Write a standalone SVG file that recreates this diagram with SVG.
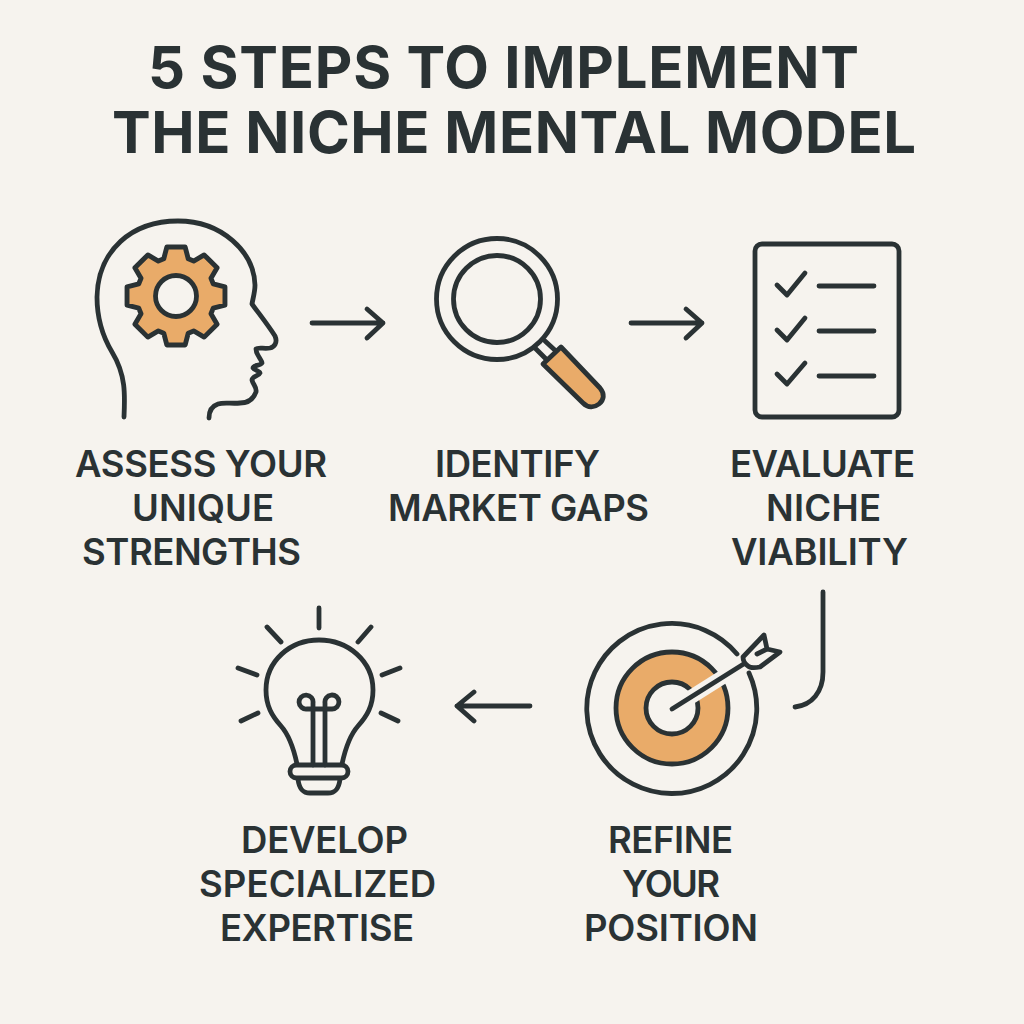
<svg xmlns="http://www.w3.org/2000/svg" width="1024" height="1024" viewBox="0 0 1024 1024">
<style>
.l{fill:none;stroke:#2a3234;stroke-width:4.8;stroke-linecap:round;stroke-linejoin:round}
.o{fill:#e9ab69;stroke:#2a3234;stroke-width:4.8;stroke-linejoin:round}
.b{fill:#f6f3ee;stroke:#2a3234;stroke-width:4.8}
text{font-family:"Inter","Liberation Sans",sans-serif;fill:#2a3234;text-anchor:start}
.t{font-size:58px;font-weight:700}
.s{font-size:36.5px;font-weight:600}
</style>
<rect width="1024" height="1024" fill="#f6f3ee"/>
<g id="title">
<text class="t" x="148" y="87.5" textLength="711" lengthAdjust="spacing">5 STEPS TO IMPLEMENT</text>
<text class="t" x="112" y="152.5" textLength="804" lengthAdjust="spacing">THE NICHE MENTAL MODEL</text>
</g>
<g id="connectors">
<path class="l" d="M312 323H383M367 309L383 323L367 338"/>
<path class="l" d="M631 323H702M686 309L702 323L686 338"/>
<path class="l" d="M823 592V672C823 692 812 705 795 707"/>
<path class="l" d="M530 706H457M474 692L457 706L474 721"/>
</g>
<g id="step1">
<path class="l" d="M124 417C125 395 126 375 112 352C100 332 97 315 97 297C98 250 132 221 178 221C222 221 254 252 255 285C255 292 253 298 252 304C260 315 268 325 275 336C278 343 274 347 270 348C264 349 258 347 256 349C256 355 262 360 262 363C260 366 253 365 253 368C254 370 260 371 260 373C259 376 252 376 252 380C253 385 257 387 256 392C253 400 247 403 240 403C232 404 224 402 218 404C212 406 209 411 209 418"/>
<path class="o" transform="translate(176 296) scale(1.02) translate(-176 -296)" d="M164 259.5L167 248H185L188 259.5L193.3 261.7L203.6 255.7L216.3 268.4L210.3 278.7L212.5 284L224 287V305L212.5 308L210.3 313.3L216.3 323.6L203.6 336.3L193.3 330.3L188 332.5L185 344H167L164 332.5L158.7 330.3L148.4 336.3L135.7 323.6L141.7 313.3L139.5 308L128 305V287L139.5 284L141.7 278.7L135.7 268.4L148.4 255.7L158.7 261.7Z"/>
<circle class="b" cx="176" cy="296" r="20.5"/>
<text class="s" x="75" y="477" textLength="252" lengthAdjust="spacing">ASSESS YOUR</text>
<text class="s" x="132" y="521" textLength="142" lengthAdjust="spacing">UNIQUE</text>
<text class="s" x="82" y="565" textLength="219" lengthAdjust="spacing">STRENGTHS</text>
</g>
<g id="step2">
<circle class="l" cx="497" cy="299" r="60.5"/>
<circle class="l" cx="497" cy="299" r="43.5"/>
<path class="l" d="M535 348L548 361M545 341L558 353"/>
<path class="o" d="M543 364L561 347L600 388C605 394 604 400 599 404C594 408 588 408 583 403Z"/>
<text class="s" x="435" y="477" textLength="165" lengthAdjust="spacing">IDENTIFY</text>
<text class="s" x="388" y="521" textLength="261" lengthAdjust="spacing">MARKET GAPS</text>
</g>
<g id="step3">
<rect class="l" x="755" y="244" width="144" height="173" rx="7"/>
<path class="l" d="M777 285L787 295L805 273M819 286H874M777 330L787 340L805 318M819 331H874M777 374L787 384L805 363M819 376H874"/>
<text class="s" x="730" y="477" textLength="185" lengthAdjust="spacing">EVALUATE</text>
<text class="s" x="766" y="521" textLength="115" lengthAdjust="spacing">NICHE</text>
<text class="s" x="731" y="565" textLength="177" lengthAdjust="spacing">VIABILITY</text>
</g>
<g id="step4">
<path class="l" d="M737 654A85 85 0 1 0 749 673"/>
<circle class="o" cx="672" cy="708" r="56"/>
<circle class="b" cx="672" cy="708" r="26"/>
<path d="M672 709L745 663" fill="none" stroke="#f6f3ee" stroke-width="14"/>
<path class="l" d="M672 709L750 660"/>
<path class="l" style="fill:#f6f3ee" d="M743 657L764 635L767 649L780 652L760 667C755 668 750 668 748 666C745 664 743 660 743 657ZM767 649L757 654"/>
<text class="s" x="608" y="853" textLength="125" lengthAdjust="spacing">REFINE</text>
<text class="s" x="622" y="897" textLength="98" lengthAdjust="spacing">YOUR</text>
<text class="s" x="584" y="941" textLength="174" lengthAdjust="spacing">POSITION</text>
</g>
<g id="step5">
<path class="l" d="M297 764C294 750 289 735 281 726C272 716 266 706 266 690C266 661 290 640 319 640C348 640 373 661 373 690C373 706 367 716 358 726C350 735 345 750 342 764"/>
<path class="l" d="M313 765V709H307A7 7 0 1 1 313 703V709M325 765V703A7 7 0 1 1 332 709H313"/>
<rect class="l" x="290" y="765" width="58" height="13" rx="6.5"/>
<path class="l" d="M298 779C299 788 302 793 310 793H328C336 793 339 788 340 779"/>
<path class="l" d="M319 608V628M267 627L281 642M371 627L358 642M238 668L257 675M400 668L382 675M241 721L258 713M398 721L381 713"/>
<text class="s" x="241" y="853" textLength="167" lengthAdjust="spacing">DEVELOP</text>
<text class="s" x="199" y="897" textLength="237" lengthAdjust="spacing">SPECIALIZED</text>
<text class="s" x="220" y="941" textLength="194" lengthAdjust="spacing">EXPERTISE</text>
</g>
</svg>
